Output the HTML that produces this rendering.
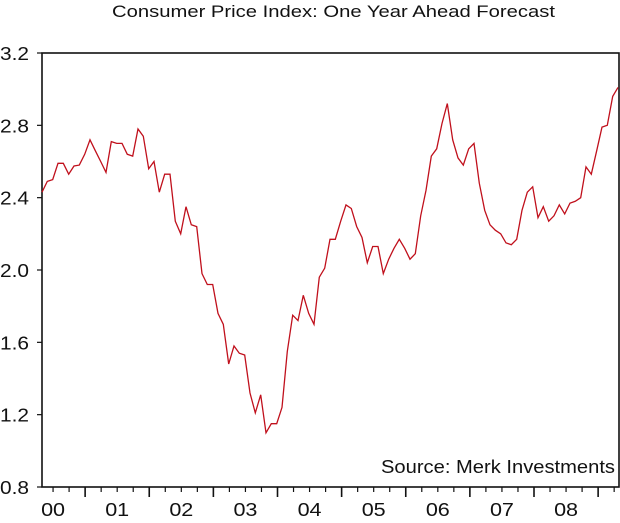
<!DOCTYPE html>
<html><head><meta charset="utf-8"><style>
body{margin:0;background:#fff;}
svg text{font-family:"Liberation Sans",Arial,sans-serif;fill:#111;}
</style></head><body>
<svg id="chart" width="620" height="518" xmlns="http://www.w3.org/2000/svg">
<text x="112" y="17" font-size="17" textLength="443" lengthAdjust="spacingAndGlyphs">Consumer Price Index: One Year Ahead Forecast</text>
<g id="axes"></g>
<path id="series" fill="none" stroke="#c0101c" stroke-width="1.3"/>
<text x="381" y="473" font-size="18" textLength="234" lengthAdjust="spacingAndGlyphs">Source: Merk Investments</text>
</svg>
<script>
const yTicks=[0.8,1.2,1.6,2.0,2.4,2.8,3.2];
const yearLabels=["00","01","02","03","04","05","06","07","08"];
const values=[2.43,2.49,2.50,2.59,2.59,2.53,2.575,2.58,2.64,2.72,2.66,2.60,2.54,2.71,2.70,2.70,2.64,2.63,2.78,2.74,2.56,2.60,2.43,2.53,2.53,2.27,2.20,2.35,2.25,2.24,1.98,1.92,1.92,1.76,1.70,1.48,1.58,1.54,1.53,1.32,1.21,1.31,1.10,1.15,1.15,1.24,1.55,1.75,1.72,1.86,1.76,1.70,1.96,2.01,2.17,2.17,2.27,2.36,2.34,2.24,2.18,2.04,2.13,2.13,1.98,2.06,2.12,2.17,2.12,2.06,2.09,2.30,2.44,2.63,2.67,2.81,2.92,2.72,2.62,2.58,2.67,2.70,2.48,2.33,2.25,2.22,2.20,2.15,2.14,2.17,2.33,2.43,2.46,2.29,2.35,2.27,2.30,2.36,2.31,2.37,2.38,2.40,2.57,2.53,2.66,2.79,2.80,2.96,3.01];
const L=42,R=619,T=53,B=487;
const yS=v=>B-(v-0.8)/(3.2-0.8)*(B-T);
const xI=i=>L+i*(R-1-L)/(values.length-1);
const xYear=y=>21+y*64.125;
const NS="http://www.w3.org/2000/svg";
const ax=document.getElementById('axes');
function mk(tag,attrs){const e=document.createElementNS(NS,tag);for(const k in attrs)e.setAttribute(k,attrs[k]);ax.appendChild(e);return e;}
const frame=mk('rect',{x:L,y:T,width:R-L,height:B-T,fill:'none',stroke:'#111','stroke-width':1.6});


yTicks.forEach(v=>{
  const t=mk('line',{x1:L-5,x2:L,y1:yS(v),y2:yS(v),stroke:'#111','stroke-width':1.2});
  
  
  const tx=mk('text',{x:0,y:yS(v)+7,'font-size':18.5,textLength:29,lengthAdjust:'spacingAndGlyphs'});
  tx.textContent=v.toFixed(1);
  
  
});
for(let q=0;q<=40;q++){
  const x=xYear(q/4);
  if(x<L+1||x>R)continue;
  const maj=q%4===0;
  const t=mk('line',{x1:x,x2:x,y1:B,y2:B+(maj?10:5),stroke:'#111','stroke-width':maj?1.6:1.2});
  
  
}
yearLabels.forEach((lab,i)=>{
  const tx=mk('text',{x:xYear(i+0.5)-12,y:B+29,'font-size':18.5,textLength:24,lengthAdjust:'spacingAndGlyphs'});
  tx.textContent=lab;
  
  
});
document.getElementById('series').setAttribute('d',values.map((v,i)=>(i?'L':'M')+xI(i).toFixed(1)+','+yS(v).toFixed(1)).join(''));
</script>
</body></html>
